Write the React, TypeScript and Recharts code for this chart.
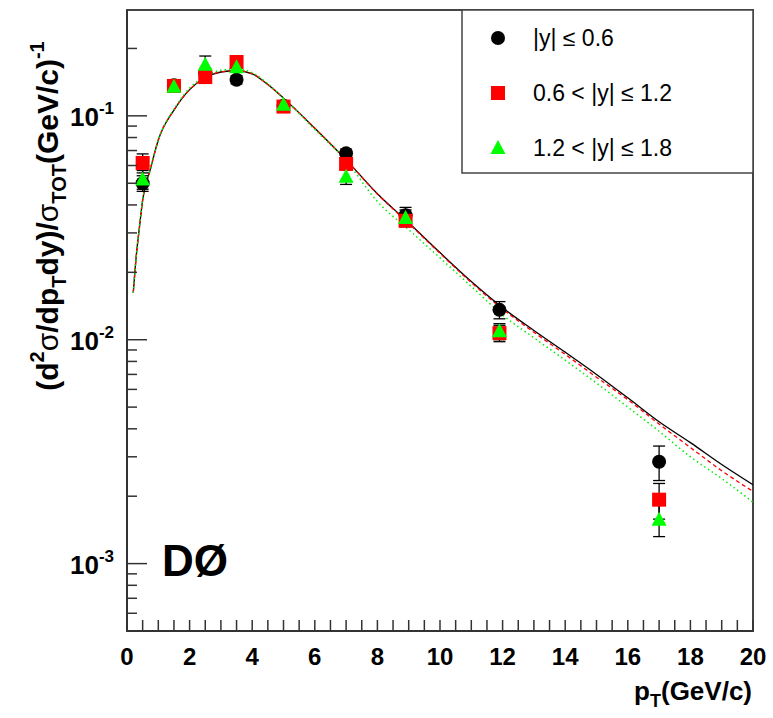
import { ComposedChart, Line, Scatter, ErrorBar, XAxis, YAxis, ReferenceArea } from "recharts"

// measured points (pT bin centres, GeV/c)
const pT = [0.5, 1.5, 2.5, 3.5, 5, 7, 8.9, 11.9, 17]

const central = [0.05, 0.137, 0.155, 0.145, 0.111, 0.068, 0.036, 0.0136, 0.00285]
const centralErr = [0.004, 0.006, 0.008, 0.006, 0.004, 0.003, 0.003, 0.0012, 0.0005]

const mid = [0.0616, 0.136, 0.149, 0.174, 0.11, 0.061, 0.034, 0.0107, 0.00193]
const midErr = [0.006, 0.006, 0.007, 0.008, 0.004, 0.003, 0.002, 0.0009, 0.00035]

const fwd = [0.052, 0.135, 0.169, 0.165, 0.112, 0.0534, 0.035, 0.0109, 0.00157]
const fwdErr = [0.005, 0.006, 0.016, 0.008, 0.004, 0.004, 0.003, 0.0009, 0.00025]

// fit curves
const curveX = [0.2, 0.3, 0.4, 0.5, 0.75, 1, 1.5, 2, 2.5, 3, 3.5, 4, 4.5, 5, 6, 7, 8, 9, 10, 11, 12, 13, 14, 15, 16, 17, 18, 19, 20]
const curveCentral = [0.0162, 0.024, 0.032, 0.042, 0.058, 0.078, 0.106, 0.131, 0.148, 0.157, 0.159, 0.154, 0.138, 0.12, 0.088, 0.0636, 0.0449, 0.0333, 0.0245, 0.0182, 0.0139, 0.011, 0.0088, 0.007, 0.0055, 0.0043, 0.00347, 0.00277, 0.00225]
const curveMid = [0.0162, 0.024, 0.032, 0.042, 0.058, 0.078, 0.106, 0.131, 0.148, 0.157, 0.159, 0.154, 0.138, 0.12, 0.088, 0.0636, 0.0447, 0.0331, 0.0243, 0.018, 0.0137, 0.0108, 0.0086, 0.0068, 0.0054, 0.0042, 0.0033, 0.0026, 0.0021]
const curveFwd = [0.0162, 0.024, 0.032, 0.042, 0.058, 0.078, 0.107, 0.133, 0.15, 0.16, 0.162, 0.156, 0.139, 0.12, 0.087, 0.063, 0.0414, 0.031, 0.0232, 0.0173, 0.0129, 0.0102, 0.0081, 0.0064, 0.005, 0.0039, 0.003, 0.0024, 0.00188]

const xTicks = [0, 0.5, 1, 1.5, 2, 2.5, 3, 3.5, 4, 4.5, 5, 5.5, 6, 6.5, 7, 7.5, 8, 8.5, 9, 9.5, 10, 10.5, 11, 11.5, 12, 12.5, 13, 13.5, 14, 14.5, 15, 15.5, 16, 16.5, 17, 17.5, 18, 18.5, 19, 19.5, 20]
const yTicks = [6e-4, 7e-4, 8e-4, 9e-4, 1e-3, 2e-3, 3e-3, 4e-3, 5e-3, 6e-3, 7e-3, 8e-3, 9e-3, 1e-2, 2e-2, 3e-2, 4e-2, 5e-2, 6e-2, 7e-2, 8e-2, 9e-2, 1e-1, 2e-1]
const yMajor = [1e-3, 1e-2, 1e-1]

const legendLabels = ["|y| ≤ 0.6", "0.6 < |y| ≤ 1.2", "1.2 < |y| ≤ 1.8"]

const points = (ys: number[], errs: number[]) => pT.map((x, i) => ({ x, y: ys[i], err: errs[i] }))
const curve = (ys: number[]) => curveX.map((x, i) => ({ x, y: ys[i] }))

const FONT = "'Liberation Sans', Arial, Helvetica, sans-serif"

function XTick({ x, y, payload }: any) {
  const v = payload.value
  const labelled = Number.isInteger(v) && v % 2 === 0
  return (
    <g>
      <line x1={x} x2={x} y1={y} y2={y - 11} stroke="#333" strokeWidth={1.5} />
      {labelled && (
        <text x={x} y={y + 34} textAnchor="middle" fontSize={24} fontWeight="bold" fontFamily={FONT} fill="#000">
          {v}
        </text>
      )}
    </g>
  )
}

function YTick({ x, y, payload }: any) {
  const v = payload.value
  const major = yMajor.some((m) => Math.abs(v - m) / m < 1e-6)
  return (
    <g>
      <line x1={x} x2={x + (major ? 20 : 10)} y1={y} y2={y} stroke="#333" strokeWidth={1.5} />
      {major && (
        <text x={x - 13} y={y + 10} textAnchor="end" fontSize={26} fontWeight="bold" fontFamily={FONT} fill="#000">
          10
          <tspan dy={-12} fontSize={17}>
            {Math.round(Math.log10(v))}
          </tspan>
        </text>
      )}
    </g>
  )
}

const Circle = ({ cx, cy }: any) => <circle cx={cx} cy={cy} r={7} fill="#000" />
const Square = ({ cx, cy }: any) => <rect x={cx - 7} y={cy - 7} width={14} height={14} fill="#ff0000" />
const Triangle = ({ cx, cy }: any) => (
  <polygon points={`${cx},${cy - 8} ${cx - 7.5},${cy + 6} ${cx + 7.5},${cy + 6}`} fill="#00ff00" />
)

function LegendMarker({ i, x, y }: { i: number; x: number; y: number }) {
  if (i === 0) return <Circle cx={x} cy={y} />
  if (i === 1) return <Square cx={x} cy={y} />
  return <Triangle cx={x} cy={y} />
}

export default function App() {
  return (
    <div style={{ position: "absolute", left: 0, top: 0, width: 773, height: 718, background: "#fff" }}>
      <ComposedChart width={773} height={718} margin={{ top: 10, right: 20, bottom: 0, left: 67 }}>
        <XAxis
          type="number"
          dataKey="x"
          domain={[0, 20]}
          ticks={xTicks}
          interval={0}
          tickSize={0}
          tickMargin={0}
          tick={<XTick />}
          height={87}
          axisLine={{ stroke: "#333", strokeWidth: 2 }}
          allowDataOverflow
        />
        <YAxis
          type="number"
          dataKey="y"
          scale="log"
          domain={[5e-4, 0.297]}
          ticks={yTicks}
          interval={0}
          tickSize={0}
          tickMargin={0}
          tick={<YTick />}
          width={60}
          axisLine={{ stroke: "#333", strokeWidth: 2 }}
          allowDataOverflow
        />
        <ReferenceArea x1={0} x2={20} y1={5e-4} y2={0.297} fill="none" stroke="#444" strokeWidth={2} ifOverflow="visible" />
        <Line data={curve(curveCentral)} dataKey="y" type="monotone" stroke="#000" strokeWidth={1.3} dot={false} isAnimationActive={false} />
        <Line data={curve(curveMid)} dataKey="y" type="monotone" stroke="#ff0000" strokeWidth={1.3} strokeDasharray="4 3" dot={false} isAnimationActive={false} />
        <Line data={curve(curveFwd)} dataKey="y" type="monotone" stroke="#00ee00" strokeWidth={1.5} strokeDasharray="1.5 3" dot={false} isAnimationActive={false} />
        <Scatter data={points(central, centralErr)} dataKey="y" shape={<Circle />} isAnimationActive={false}>
          <ErrorBar dataKey="err" direction="y" width={6} stroke="#000" strokeWidth={1.3} />
        </Scatter>
        <Scatter data={points(mid, midErr)} dataKey="y" shape={<Square />} isAnimationActive={false}>
          <ErrorBar dataKey="err" direction="y" width={6} stroke="#000" strokeWidth={1.3} />
        </Scatter>
        <Scatter data={points(fwd, fwdErr)} dataKey="y" shape={<Triangle />} isAnimationActive={false}>
          <ErrorBar dataKey="err" direction="y" width={6} stroke="#000" strokeWidth={1.3} />
        </Scatter>
      </ComposedChart>
      <svg width={773} height={718} style={{ position: "absolute", left: 0, top: 0, pointerEvents: "none" }}>
        {/* legend */}
        <rect x={462} y={10} width={291} height={163} fill="#fff" stroke="#444" strokeWidth={1.5} />
        {legendLabels.map((t, i) => (
          <g key={t}>
            <LegendMarker i={i} x={498} y={38 + i * 55} />
            <text x={533} y={46 + i * 55} fontSize={23} fontFamily={FONT} fill="#000">
              {t}
            </text>
          </g>
        ))}
        {/* experiment tag */}
        <text x={162} y={576} fontSize={44} fontWeight="bold" fontFamily={FONT} fill="#000">
          DØ
        </text>
        {/* axis titles */}
        <text x={752} y={700} textAnchor="end" fontSize={26} fontWeight="bold" fontFamily={FONT} fill="#000">
          p<tspan dy={7} fontSize={18}>T</tspan>
          <tspan dy={-7}>(GeV/c)</tspan>
        </text>
        <text
          x={58}
          y={216}
          transform="rotate(-90, 58, 216)"
          textAnchor="middle"
          fontSize={30}
          fontWeight="bold"
          fontFamily={FONT}
          fill="#000"
        >
          (d<tspan dy={-14} fontSize={20}>2</tspan>
          <tspan dy={14} fontWeight="normal">σ</tspan>
          <tspan>/dp</tspan>
          <tspan dy={8} fontSize={20}>T</tspan>
          <tspan dy={-8}>dy)/</tspan>
          <tspan fontWeight="normal">σ</tspan>
          <tspan dy={8} fontSize={20}>TOT</tspan>
          <tspan dy={-8}>(GeV/c)</tspan>
          <tspan dy={-14} fontSize={20}>-1</tspan>
        </text>
      </svg>
    </div>
  )
}
